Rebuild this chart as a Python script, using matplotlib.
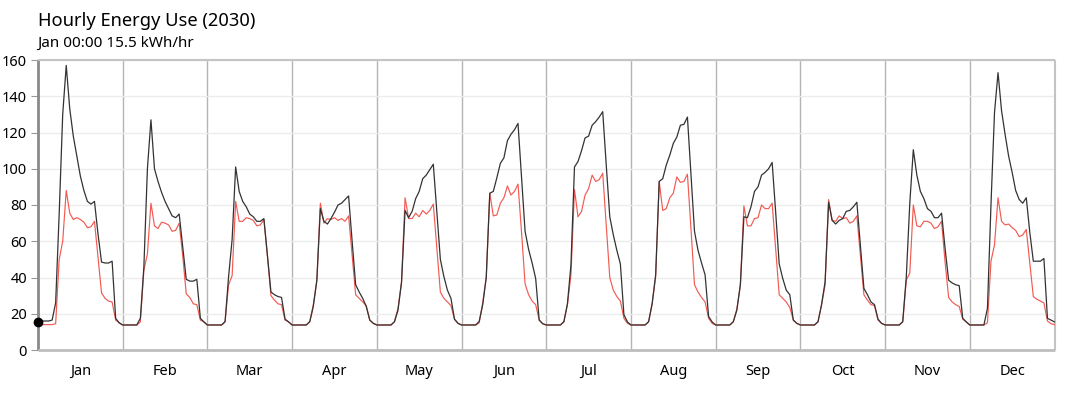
# Hourly energy use chart (2030), average day per month

import numpy as np
import matplotlib
matplotlib.use('Agg')
import matplotlib.pyplot as plt


# global setting
OUTFILENAME = 'out.png'
FONT = ['Noto Sans', 'DejaVu Sans']

months = ['Jan', 'Feb', 'Mar', 'Apr', 'May', 'Jun',
          'Jul', 'Aug', 'Sep', 'Oct', 'Nov', 'Dec']

title_text = 'Hourly Energy Use (2030)'
subtitle_text = 'Jan 00:00 15.5 kWh/hr'

y_ticks = [0, 20, 40, 60, 80, 100, 120, 140, 160]

# black line: 24 hourly values per month (kWh/hr)
total_jan = [15.5, 16, 16, 16, 16.5, 26, 75, 130, 157, 133, 118, 107, 96, 88, 82, 80.5, 82, 64, 48.5, 48, 48, 49, 17.5, 15]
total_feb = [13.8, 13.8, 13.8, 13.8, 13.8, 17.5, 46, 100, 127, 100, 93, 87, 82, 78, 74, 73, 75, 57, 39, 38, 38, 39, 17.5, 15.5]
total_mar = [13.8, 13.8, 13.8, 13.8, 13.8, 15.6, 40.5, 61, 101, 87.5, 82, 79, 75, 73.5, 71, 71, 72.5, 52, 32, 30.5, 29.5, 29, 17, 15.5]
total_apr = [13.8, 13.8, 13.8, 13.8, 13.8, 15.6, 24, 38.5, 78, 71, 69.5, 72.5, 76, 80, 81, 83, 85, 60, 36, 32, 28.5, 24, 16.5, 14.7]
total_may = [13.8, 13.8, 13.8, 13.8, 13.8, 15.6, 22, 37.5, 77, 73, 76.5, 83.5, 87.5, 94.5, 96.5, 99.5, 102.5, 76, 50, 40.5, 33, 28.5, 17, 14.7]
total_jun = [13.8, 13.8, 13.8, 13.8, 13.8, 15.8, 25, 40, 86.5, 87.5, 95, 103, 106, 115.5, 119, 121.5, 125, 95, 65.5, 55.5, 48, 39.5, 16.5, 14.5]
total_jul = [13.8, 13.8, 13.8, 13.8, 13.8, 15.6, 25.5, 47, 101, 104, 110, 117, 118, 124, 126, 128.5, 131.5, 102, 73.5, 63.5, 55, 47.5, 19.5, 15.5]
total_aug = [13.8, 13.8, 13.8, 13.8, 13.8, 15.6, 25.5, 41.5, 93, 94.5, 102, 107.5, 114, 117.5, 124, 124.5, 128.5, 96.5, 65.5, 55, 48, 41.5, 18.5, 15.5]
total_sep = [13.8, 13.8, 13.8, 13.8, 13.8, 15.6, 22, 36, 73.5, 73, 79, 87.5, 90, 96.5, 98, 100, 103.5, 76, 47.5, 39.5, 33, 30.5, 16.5, 14.7]
total_oct = [13.8, 13.8, 13.8, 13.8, 13.8, 15.6, 25, 37.5, 81.5, 71.5, 69.5, 71.5, 72.5, 76.5, 77, 79, 81.5, 58, 34, 30.5, 26.5, 25, 17, 14.7]
total_nov = [13.8, 13.8, 13.8, 13.8, 13.8, 15.6, 40, 81, 110.5, 96.5, 87.5, 83.5, 78, 76.5, 73, 73, 75.5, 56, 38.5, 37, 36, 35.5, 17.5, 15.5]
total_dec = [13.8, 13.8, 13.8, 13.8, 13.8, 23, 80, 131, 153, 132, 119, 107, 98, 88, 83, 81, 84, 65, 49, 49, 49, 50.5, 17.5, 16.5]

# red line
red_jan = [14, 14, 14, 14, 14, 14.5, 50, 60, 88, 75.5, 72, 73, 72, 70.5, 67.5, 68, 71, 51, 31.5, 28.5, 27, 26.5, 16.5, 15]
red_feb = [13.8, 13.8, 13.8, 13.8, 13.8, 15.5, 44, 53, 81, 68.5, 67, 70.5, 70, 69, 65.5, 66, 70, 52, 31, 29, 25.5, 25, 16.5, 15.5]
red_mar = [13.8, 13.8, 13.8, 13.8, 13.8, 15.6, 36, 41, 82, 71, 71, 73, 72.5, 71.5, 68.5, 69, 72, 52, 30, 27.5, 25.5, 25, 16.5, 15.5]
red_apr = [13.8, 13.8, 13.8, 13.8, 13.8, 15.6, 25, 38, 81, 70, 72.5, 72, 73, 71.5, 72.5, 71, 74, 52, 30.5, 28.5, 26.5, 24.5, 16.5, 14.7]
red_may = [13.8, 13.8, 13.8, 13.8, 13.8, 15.6, 23, 37.5, 84, 72.5, 72.5, 75.5, 73.5, 77, 75, 77, 80.5, 56, 32, 28.5, 26.5, 24.5, 17, 14.7]
red_jun = [13.8, 13.8, 13.8, 13.8, 13.8, 15, 26, 40, 86.5, 74, 74.5, 81, 84, 90.5, 85.5, 87.5, 91.5, 65, 36.5, 30.5, 27, 25, 16.5, 14.5]
red_jul = [13.8, 13.8, 13.8, 13.8, 13.8, 15.6, 25, 41.5, 88.5, 73.5, 76.5, 85.5, 89, 96.5, 93, 94, 97.5, 69, 40, 33, 29.5, 27, 17.5, 14.7]
red_aug = [13.8, 13.8, 13.8, 13.8, 13.8, 15.6, 25.5, 40.5, 93, 77, 78, 84, 86.5, 95.5, 92.5, 93, 97, 67, 36, 32, 29, 26.5, 17.5, 14.7]
red_sep = [13.8, 13.8, 13.8, 13.8, 13.8, 15.6, 22.5, 36, 79.5, 68.5, 68.5, 72.5, 73, 80, 78, 78, 81, 56, 30.5, 28.5, 26.5, 23.5, 16.5, 14.7]
red_oct = [13.8, 13.8, 13.8, 13.8, 13.8, 15.6, 25, 36, 83, 71.5, 71, 74, 72.5, 73, 70, 71, 74, 52, 30.5, 27.5, 25, 24.5, 16.5, 14.7]
red_nov = [13.8, 13.8, 13.8, 13.8, 13.8, 15.6, 38.5, 42.5, 80, 68.5, 68, 71, 71, 70, 67, 68, 71, 48.5, 29, 26.5, 25, 24, 17, 15.5]
red_dec = [13.8, 13.8, 13.8, 13.8, 13.8, 15, 49, 58, 84, 71, 69, 69.5, 67.5, 66, 62.5, 63.5, 66.5, 48, 29.5, 28, 27, 26, 16, 14.5]


def main():
    total = np.concatenate([total_jan, total_feb, total_mar, total_apr, total_may, total_jun,
                            total_jul, total_aug, total_sep, total_oct, total_nov, total_dec])
    red = np.concatenate([red_jan, red_feb, red_mar, red_apr, red_may, red_jun,
                          red_jul, red_aug, red_sep, red_oct, red_nov, red_dec])

    # wrap around so the line reaches the right edge
    total = np.append(total, total[0])
    red = np.append(red, red[0])
    hours = np.arange(len(total))

    fig = plt.figure(figsize=(10.74, 3.94), dpi=100)
    ax = fig.add_axes([38 / 1074, 44 / 394, 1016.5 / 1074, 290 / 394])

    ax.plot(hours, red, color='#f25a52', lw=0.85, zorder=3)
    ax.plot(hours, total, color='#333333', lw=0.9, zorder=4)
    # highlighted point: first hour (Jan 00:00) of the black line
    ax.plot(hours[:1], total[:1], linestyle='none', marker='o', ms=6,
            color='black', zorder=6, clip_on=False)

    ax.set_xlim(0, 288)
    ax.set_ylim(0, 160)

    # month separators and labels
    ax.set_xticks(np.arange(0, 289, 24), minor=True)
    ax.set_xticks(np.arange(12) * 24 + 12)
    ax.set_xticklabels(months, family=FONT, fontsize=10.5)
    ax.tick_params(axis='x', which='both', length=0, pad=10)
    ax.grid(axis='x', which='minor', color='#b4b4b4', lw=1)

    ax.set_yticks(y_ticks)
    ax.set_yticklabels([str(v) for v in y_ticks], family=FONT, fontsize=10.5)
    ax.tick_params(axis='y', length=5, color='#999999', pad=3)
    ax.grid(axis='y', which='major', color='#ececec', lw=1)
    ax.set_axisbelow(True)

    for side in ['top', 'right']:
        ax.spines[side].set_color('#c4c4c4')
        ax.spines[side].set_linewidth(1.5)
    ax.spines['bottom'].set_color('#bdbdbd')
    ax.spines['bottom'].set_linewidth(2)
    ax.spines['left'].set_color('#8a8a8a')
    ax.spines['left'].set_linewidth(2)
    for side in ax.spines:
        ax.spines[side].set_capstyle('butt')

    fig.text(38 / 1074, 1 - 26 / 394, title_text, family=FONT, fontsize=13.2, va='baseline')
    fig.text(37 / 1074, 1 - 46.5 / 394, subtitle_text, family=FONT, fontsize=11, va='baseline')

    fig.savefig(OUTFILENAME, dpi=100)


if __name__ == '__main__':
    main()
